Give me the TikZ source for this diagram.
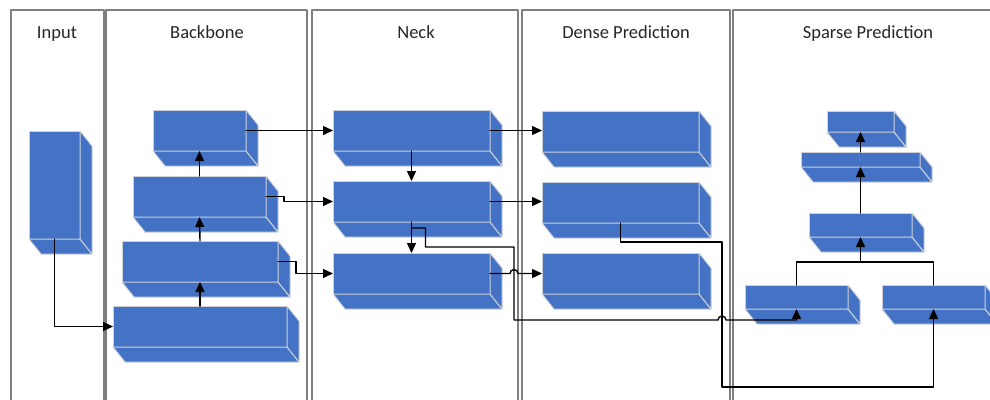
\documentclass[tikz,border=0pt]{standalone}
\usepackage{fontspec}
\setmainfont{Carlito}
\usetikzlibrary{arrows.meta}
\definecolor{slabblue}{HTML}{4472C4}
\definecolor{slabedge}{HTML}{CDD2DA}
\definecolor{laneline}{HTML}{7F7F7F}
\tikzset{
  slab/.style={draw=slabedge,fill=slabblue,line width=1pt,outer sep=0pt,inner sep=0pt},
  slabside/.style={draw=slabedge,fill=slabblue,line width=1pt},
  lane/.style={draw=laneline,line width=1.1pt},
  lanetitle/.style={font=\fontsize{18.5}{22}\selectfont,text=black!85,anchor=base},
  link/.style={line width=1.4pt}
}
% block with depth: name, x, y, width, height
\newcommand{\slab}[5]{%
  \node[slab,anchor=north west,minimum width=#4,minimum height=#5] (#1) at (#2,#3) {};
  \draw[slabside] (#1.south west) -- (#1.south east) -- ++(12,15) -- ++(-#4,0) -- cycle;
  \draw[slabside] (#1.north east) -- ++(12,15) -- ++(0,#5) -- (#1.south east) -- cycle;
}
\begin{document}
\begin{tikzpicture}[line cap=round,line join=round,>={Triangle[length=10pt,width=9pt]},x=1pt,y=-1pt]
\useasboundingbox (0,0) rectangle (990,399);
\clip (0,0) rectangle (990,399);
% lanes
\draw[lane] (11,10) rectangle (104,410);
\draw[lane] (106,10) rectangle (307,410);
\draw[lane] (312,10) rectangle (518,410);
\draw[lane] (522,10) rectangle (730,410);
\draw[lane] (733,10) rectangle (1000,410);
\node[lanetitle] (tinput) at (57,38) {Input};
\node[lanetitle] (tbackbone) at (207,38) {Backbone};
\node[lanetitle] (tneck) at (416,38) {Neck};
\node[lanetitle] (tdense) at (626,38) {Dense Prediction};
\node[lanetitle] (tsparse) at (868,38) {Sparse Prediction};
% blocks
\slab{in}{29}{131}{51}{108}
\slab{b4}{153}{110}{93}{41}
\slab{b3}{133}{176}{133}{41}
\slab{b2}{122}{241}{156}{41}
\slab{b1}{113}{306}{174}{41}
\slab{n1}{333}{110}{157}{41}
\slab{n2}{333}{181}{157}{41}
\slab{n3}{333}{253}{157}{41}
\slab{d1}{542}{111}{157}{41}
\slab{d2}{542}{182}{157}{41}
\slab{d3}{542}{253}{157}{41}
\slab{s1}{745}{285}{103}{24}
\slab{s2}{882}{285}{103}{24}
\slab{s3}{809}{213}{103}{24}
\slab{s4}{801}{152}{119}{15}
\slab{s5}{827}{111}{67}{21}
% links
\draw[link,->] (in.south) |- (b1.west);
\draw[link,->] (b1.north) -- (b2.south);
\draw[link,->] (b2.north) -- (b3.south);
\draw[link,->] (b3.north) -- (b4.south);
\draw[link,->] (b4.east) -- (n1.west);
\draw[link,->] (b3.east) -- ++(18,0) |- (n2.west);
\draw[link,->] (b2.east) -- ++(18,0) |- (n3.west);
\draw[link,->] (n1.south) -- (n2.north);
\draw[link,->] (n2.south) -- (n3.north);
\draw[link,->] (n1.east) -- (n1.east -| d1.west);
\draw[link,->] (n2.east) -- (n2.east -| d2.west);
\coordinate (hopa) at (514,273.5);
\coordinate (hopb) at (722,320);
\draw[link,->] (n3.east) -- ([xshift=-4pt]hopa) arc[start angle=180,end angle=360,radius=4] -- (d3.west);
\draw[link,->] ([yshift=-6pt]n2.south) -- ++(14,0) |- (514,247) -- (514,320) -- ([xshift=-4pt]hopb)
  arc[start angle=180,end angle=360,radius=4] -- (s1.south |- hopb) -- (s1.south);
\draw[link,->] (d2.south) |- (722,242) -- (722,387) -| (s2.south);
\coordinate (merge) at (860.5,262);
\draw[link] (s1.north) |- (merge) -| (s2.north);
\draw[link,->] (merge) -- (s3.south);
\draw[link,->] (s3.north) -- (s4.south);
\draw[link,->] (s4.north) -- (s5.south);
\end{tikzpicture}
\end{document}
